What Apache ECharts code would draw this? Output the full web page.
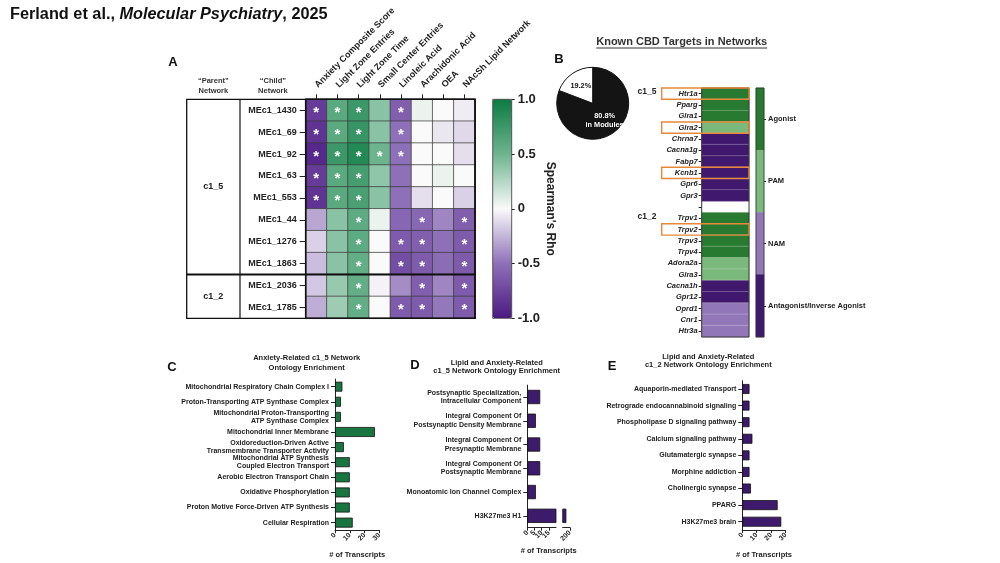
<!DOCTYPE html>
<html><head><meta charset="utf-8">
<script src="https://cdn.jsdelivr.net/npm/echarts@6/dist/echarts.min.js"></script>
<style>html,body{margin:0;padding:0;background:#fff}#c{width:1000px;height:563px}</style>
</head><body><div id="c"></div>
<script>
// ---------------- DATA ----------------
// Panel A
const aColumns = ['Anxiety Composite Score','Light Zone Entries','Light Zone Time','Small Center Entries','Linoleic Acid','Arachidonic Acid','OEA','NAcSh Lipid Network'];
const aRows = ['MEc1_1430','MEc1_69','MEc1_92','MEc1_63','MEc1_553','MEc1_44','MEc1_1276','MEc1_1863','MEc1_2036','MEc1_1785'];
const aParent = ['c1_5','c1_5','c1_5','c1_5','c1_5','c1_5','c1_5','c1_5','c1_2','c1_2'];
const aRho = [
  [-0.80, 0.60, 0.75, 0.40, -0.60,  0.05,  0.00, -0.05],
  [-0.85, 0.60, 0.78, 0.40, -0.50,  0.00, -0.07, -0.12],
  [-0.92, 0.75, 0.88, 0.50, -0.50,  0.00,  0.00, -0.10],
  [-0.80, 0.60, 0.70, 0.38, -0.50,  0.00,  0.05,  0.00],
  [-0.85, 0.60, 0.68, 0.40, -0.50, -0.10,  0.00, -0.15],
  [-0.30, 0.40, 0.58, 0.05, -0.55, -0.55, -0.42, -0.60],
  [-0.15, 0.40, 0.58, 0.00, -0.62, -0.60, -0.50, -0.62],
  [-0.22, 0.40, 0.55, 0.00, -0.70, -0.62, -0.52, -0.62],
  [-0.18, 0.35, 0.55, -0.03, -0.40, -0.60, -0.42, -0.62],
  [-0.28, 0.33, 0.55, 0.00, -0.62, -0.62, -0.47, -0.62]
];
const aSig = [
  [1,1,1,0,1,0,0,0],
  [1,1,1,0,1,0,0,0],
  [1,1,1,1,1,0,0,0],
  [1,1,1,0,0,0,0,0],
  [1,1,1,0,0,0,0,0],
  [0,0,1,0,0,1,0,1],
  [0,0,1,0,1,1,0,1],
  [0,0,1,0,1,1,0,1],
  [0,0,1,0,0,1,0,1],
  [0,0,1,0,1,1,0,1]
];
const rhoMin = -1, rhoMax = 1, rhoStep = 0.5;

// Panel B
const pieValues = [80.8, 19.2];
const pieLabels = ['80.8%\nin Modules', '19.2%'];
const bGenes = ['Htr1a','Pparg','Glra1','Glra2','Chrna7','Cacna1g','Fabp7','Kcnb1','Gpr6','Gpr3','','Trpv1','Trpv2','Trpv3','Trpv4','Adora2a','Glra3','Cacna1h','Gpr12','Oprd1','Cnr1','Htr3a'];
const bActions = ['Agonist','PAM','NAM','Antagonist/Inverse Agonist'];
const bGeneAction = ['Agonist','Agonist','Agonist','PAM','Antagonist/Inverse Agonist','Antagonist/Inverse Agonist','Antagonist/Inverse Agonist','Antagonist/Inverse Agonist','Antagonist/Inverse Agonist','Antagonist/Inverse Agonist',null,'Agonist','Agonist','Agonist','Agonist','PAM','PAM','Antagonist/Inverse Agonist','Antagonist/Inverse Agonist','NAM','NAM','NAM'];
const bHighlighted = ['Htr1a','Glra2','Kcnb1','Trpv2'];
const bGroupStart = {'c1_5':'Htr1a', 'c1_2':'Trpv1'};

// Panel C
const cTerms = ['Mitochondrial Respiratory Chain Complex I','Proton-Transporting ATP Synthase Complex','Mitochondrial Proton-Transporting\nATP Synthase Complex','Mitochondrial Inner Membrane','Oxidoreduction-Driven Active\nTransmembrane Transporter Activity','Mitochondrial ATP Synthesis\nCoupled Electron Transport','Aerobic Electron Transport Chain','Oxidative Phosphorylation','Proton Motive Force-Driven ATP Synthesis','Cellular Respiration'];
const cCounts = [5, 4, 4, 27, 6, 10, 10, 10, 10, 12];
// Panel D
const dTerms = ['Postsynaptic Specialization,\nIntracellular Component','Integral Component Of\nPostsynaptic Density Membrane','Integral Component Of\nPresynaptic Membrane','Integral Component Of\nPostsynaptic Membrane','Monoatomic Ion Channel Complex','H3K27me3 H1'];
const dCounts = [9, 6, 9, 9, 6, 150];
// Panel E
const eTerms = ['Aquaporin-mediated Transport','Retrograde endocannabinoid signaling','Phospholipase D signaling pathway','Calcium signaling pathway','Glutamatergic synapse','Morphine addiction','Cholinergic synapse','PPARG','H3K27me3 brain'];
const eCounts = [5, 5, 5, 7, 5, 5, 6, 24.5, 27];

// ---------------- LAYOUT / STYLE ----------------
const FF = '"Liberation Sans", Arial, sans-serif';
const L = {
  aGrid: {left:305.7, top:99.3, width:169.3, height:219},
  aBar: {left:492.7, top:99.3, width:19, height:219},
  tableLeft: 186.7, tableMid: 240,
  pie: {cx:592.7, cy:103.3, r:36},
  bGrid: {left:701.7, top:88, width:47.3, height:249},
  bLeg: {left:756, top:88, width:8, height:249},
  bBoxLeft: 661.7,
  cGrid: {left:335, top:379.1, width:44.3, height:151.1},
  dGrid1: {left:527.3, top:385.1, width:28.7, height:142.6},
  dGrid2: {left:562.7, top:385.1, width:7.3, height:142.6},
  eGrid: {left:742.3, top:380.7, width:43.3, height:149.3}
};
const rhoColors = ['#4b1a82', '#8e70b8', '#fafafa', '#6db48e', '#0c7b43'];
const bColors = ['#277a2f', '#7ab97b', '#9277b8', '#40196f'];
const green = '#18753f', purple = '#3d1a6b', ink = '#222';

const chart = echarts.init(document.getElementById('c'));
const grids = [L.aGrid, L.aBar, L.bGrid, L.bLeg, L.cGrid, L.dGrid1, L.dGrid2, L.eGrid]
  .map(g => ({left:g.left, top:g.top, width:g.width, height:g.height, containLabel:false, outerBoundsMode:'none'}));

const tickLbl = {fontFamily:FF, fontWeight:'bold', fontSize:7, color:ink, rotate:45, margin:4};
const axLine = {show:true, lineStyle:{color:ink, width:1}};
const xTick = {show:true, length:3, lineStyle:{color:ink}};
const nameStyle = {fontFamily:FF, fontWeight:'bold', fontSize:7.5, color:ink};
const catY = (grid, data, extra) => Object.assign({
  gridIndex:grid, type:'category', data:data, inverse:true,
  axisLine:axLine, axisTick:{show:true, alignWithLabel:true, length:4, lineStyle:{color:ink}},
  axisLabel:{interval:0, margin:6, fontFamily:FF, fontWeight:'bold', fontSize:7, color:ink, lineHeight:8.5},
  splitLine:{show:false}
}, extra || {});

const aData = [];
aRows.forEach((r, yi) => aColumns.forEach((c, xi) => aData.push([xi, yi, aRho[yi][xi], aSig[yi][xi]])));
const bData = bGenes.map((g, i) => [0, i, bGeneAction[i] == null ? '-' : bActions.indexOf(bGeneAction[i])]);
const legData = bActions.map((a, i) => [0, i, i]);

const option = {
  animation:false,
  backgroundColor:'#fff',
  title: {
    text:'{n|Ferland et al., }{i|Molecular Psychiatry}{n|, 2025}',
    left:10, top:7, padding:0,
    textStyle:{rich:{
      n:{fontFamily:FF, fontSize:16.3, color:'#111'},
      i:{fontFamily:FF, fontSize:16.3, color:'#111', fontStyle:'italic'}
    }}
  },
  grid: grids,
  visualMap: [
    {type:'continuous', seriesIndex:0, dimension:2, min:rhoMin, max:rhoMax,
     inRange:{color:rhoColors}, orient:'vertical',
     left:L.aBar.left, top:L.aBar.top, itemWidth:L.aBar.width, itemHeight:L.aBar.height,
     padding:0, calculable:false, text:null, hoverLink:false},
    {type:'piecewise', seriesIndex:[1,2], dimension:2, show:false,
     pieces: bActions.map((a, i) => ({value:i, color:bColors[i]}))}
  ],
  xAxis: [
    {gridIndex:0, type:'category', data:aColumns, position:'top',
     axisLine:{show:false}, axisTick:{show:true, alignWithLabel:true, length:5, lineStyle:{color:ink}},
     axisLabel:{interval:0, rotate:-45, margin:13, fontFamily:FF, fontWeight:'bold', fontSize:9, color:ink},
     splitLine:{show:false}},
    {gridIndex:1, type:'category', data:[''], show:false},
    {gridIndex:2, type:'category', data:[''], show:false},
    {gridIndex:3, type:'category', data:[''], show:false},
    {gridIndex:4, type:'value', min:0, max:30, interval:10, axisLine:axLine, axisTick:xTick, axisLabel:tickLbl, splitLine:{show:false},
     name:'# of Transcripts', nameLocation:'middle', nameGap:21, nameTextStyle:nameStyle},
    {gridIndex:5, type:'value', min:0, max:20, interval:5, axisLine:axLine, axisTick:xTick, axisLabel:tickLbl, splitLine:{show:false}},
    {gridIndex:6, type:'value', min:100, max:200, interval:100, axisLine:axLine, axisTick:xTick, axisLabel:tickLbl, splitLine:{show:false}},
    {gridIndex:7, type:'value', min:0, max:30, interval:10, axisLine:axLine, axisTick:xTick, axisLabel:tickLbl, splitLine:{show:false},
     name:'# of Transcripts', nameLocation:'middle', nameGap:21, nameTextStyle:nameStyle}
  ],
  yAxis: [
    catY(0, aRows, {axisLine:{show:false}, axisTick:{show:true, alignWithLabel:true, length:6, lineStyle:{color:ink}},
      axisLabel:{interval:0, margin:9, fontFamily:FF, fontWeight:'bold', fontSize:9, color:ink}}),
    {gridIndex:1, type:'value', min:rhoMin, max:rhoMax, interval:rhoStep, position:'right',
     axisLine:{show:false}, axisTick:{show:true, length:3, lineStyle:{color:ink}},
     axisLabel:{margin:6, fontFamily:FF, fontWeight:'bold', fontSize:13, color:ink, formatter:v => v === 0 ? '0' : v.toFixed(1)},
     splitLine:{show:false},
     name:"Spearman's Rho", nameLocation:'middle', nameRotate:-90, nameGap:25,
     nameTextStyle:{fontFamily:FF, fontWeight:'bold', fontSize:12, color:ink}},
    catY(2, bGenes, {axisLine:{show:false}, axisTick:{show:true, alignWithLabel:true, length:3, lineStyle:{color:ink}},
      axisLabel:{interval:0, margin:4, fontFamily:FF, fontWeight:'bold', fontStyle:'italic', fontSize:7.5, color:ink}}),
    catY(3, bActions, {position:'right', axisLine:{show:false}, axisTick:{show:true, alignWithLabel:true, length:2, lineStyle:{color:ink}},
      axisLabel:{interval:0, margin:4, fontFamily:FF, fontWeight:'bold', fontSize:7.5, color:ink}}),
    catY(4, cTerms),
    catY(5, dTerms),
    catY(6, dTerms, {show:false}),
    catY(7, eTerms)
  ],
  series: [
    {type:'heatmap', xAxisIndex:0, yAxisIndex:0, data:aData,
     itemStyle:{borderColor:'#3a3a3a', borderWidth:0.7},
     label:{show:true, formatter:p => p.data[3] ? '*' : '', color:'#fff', fontFamily:FF, fontSize:15, fontWeight:'bold', offset:[0,3]},
     emphasis:{disabled:true}},
    {type:'heatmap', xAxisIndex:2, yAxisIndex:2, data:bData,
     itemStyle:{borderColor:'rgba(255,255,255,0.4)', borderWidth:0.6}, emphasis:{disabled:true}},
    {type:'heatmap', xAxisIndex:3, yAxisIndex:3, data:legData, itemStyle:{borderWidth:0}, emphasis:{disabled:true}},
    {type:'pie', center:[L.pie.cx, L.pie.cy], radius:L.pie.r, startAngle:90, clockwise:true, silent:true,
     avoidLabelOverlap:false,
     data: pieValues.map((v, i) => ({value:v, name:pieLabels[i],
       itemStyle:{color: i === 0 ? '#141414' : '#ffffff'},
       label:{color: i === 0 ? '#fff' : '#111'}})),
     itemStyle:{borderColor:'#111', borderWidth:1},
     label:{show:true, position:'inside', formatter:p => p.name, fontFamily:FF, fontWeight:'bold', fontSize:7.3, lineHeight:9},
     labelLine:{show:false}, emphasis:{disabled:true}},
    {type:'bar', xAxisIndex:4, yAxisIndex:4, data:cCounts, barCategoryGap:'34%', clip:true,
     itemStyle:{color:green, borderColor:'#111', borderWidth:0.8}, emphasis:{disabled:true}},
    {type:'bar', xAxisIndex:5, yAxisIndex:5, data:dCounts, barCategoryGap:'40%', clip:true,
     itemStyle:{color:purple, borderColor:'#111', borderWidth:0.8}, emphasis:{disabled:true}},
    {type:'bar', xAxisIndex:6, yAxisIndex:6, data:dCounts, barCategoryGap:'40%', clip:true,
     itemStyle:{color:purple, borderColor:'#111', borderWidth:0.8}, emphasis:{disabled:true}},
    {type:'bar', xAxisIndex:7, yAxisIndex:7, data:eCounts, barCategoryGap:'40%', clip:true,
     itemStyle:{color:purple, borderColor:'#111', borderWidth:0.8}, emphasis:{disabled:true}}
  ]
};
chart.setOption(option);

// ---------------- DECORATIONS (derived from grids / axes) ----------------
const g = [];
const txt = (x, y, text, o) => g.push({type:'text', x:x, y:y, z:50, silent:true,
  style:Object.assign({text:text, fill:ink, font:'bold 7.5px ' + FF, align:'center', verticalAlign:'middle'}, o || {})});
const line = (x1, y1, x2, y2, w, c) => g.push({type:'line', z:40, silent:true, shape:{x1, y1, x2, y2}, style:{stroke:c || '#111', lineWidth:w}});
const rect = (x, y, w, h, lw, c, z) => g.push({type:'rect', z:z || 40, silent:true, shape:{x, y, width:w, height:h}, style:{fill:null, stroke:c || '#111', lineWidth:lw}});

// panel letters
[['A',173,62],['B',559,59],['C',172,367],['D',415,365],['E',612,366]].forEach(p => txt(p[1], p[2], p[0], {font:'bold 13px ' + FF, fill:'#111'}));

// Panel A table
const A = L.aGrid;
const aRowH = A.height / aRows.length;
rect(L.tableLeft, A.top, A.left + A.width - L.tableLeft, A.height, 1.3);
rect(A.left, A.top, A.width, A.height, 1.5);
line(L.tableMid, A.top, L.tableMid, A.top + A.height, 1.2);
line(A.left, A.top, A.left, A.top + A.height, 1.2);
const groups = [];
aParent.forEach((p, i) => {
  if (!groups.length || groups[groups.length - 1].name !== p) groups.push({name:p, from:i, to:i});
  else groups[groups.length - 1].to = i;
});
groups.forEach((gr, k) => {
  const y0 = chart.convertToPixel({xAxisIndex:0, yAxisIndex:0}, [0, gr.from])[1] - aRowH / 2;
  const y1 = chart.convertToPixel({xAxisIndex:0, yAxisIndex:0}, [0, gr.to])[1] + aRowH / 2;
  txt((L.tableLeft + L.tableMid) / 2, (y0 + y1) / 2, gr.name, {font:'bold 9px ' + FF});
  if (k > 0) line(L.tableLeft, y0, A.left + A.width, y0, 2.2);
});
txt((L.tableLeft + L.tableMid) / 2, A.top - 13, '\u201CParent\u201D\nNetwork', {font:'bold 7.5px ' + FF, lineHeight:10, fill:'#333'});
txt((L.tableMid + A.left) / 2, A.top - 13, '\u201CChild\u201D\nNetwork', {font:'bold 7.5px ' + FF, lineHeight:10, fill:'#333'});
rect(L.aBar.left, L.aBar.top, L.aBar.width, L.aBar.height, 0.8, '#333');

// Panel B
const B = L.bGrid;
const bRowH = B.height / bGenes.length;
const ctx = document.createElement('canvas').getContext('2d');
ctx.font = 'bold 11px ' + FF;
const bTitle = 'Known CBD Targets in Networks';
const bTitleW = ctx.measureText(bTitle).width;
const bTitleX = 681.7, bTitleY = 41.5;
txt(bTitleX, bTitleY, bTitle, {font:'bold 11px ' + FF, fill:'#333'});
line(bTitleX - bTitleW / 2, bTitleY + 6.5, bTitleX + bTitleW / 2, bTitleY + 6.5, 1, '#333');
rect(B.left, B.top, B.width, B.height, 1, '#333');
rect(L.bLeg.left, L.bLeg.top, L.bLeg.width, L.bLeg.height, 0.8, '#333');
bHighlighted.forEach(name => {
  const cy = chart.convertToPixel({xAxisIndex:2, yAxisIndex:2}, [0, bGenes.indexOf(name)])[1];
  rect(L.bBoxLeft, cy - bRowH / 2, B.left + B.width - L.bBoxLeft, bRowH, 1.4, '#e8893a', 45);
});
Object.keys(bGroupStart).forEach(k => {
  const cy = chart.convertToPixel({xAxisIndex:2, yAxisIndex:2}, [0, bGenes.indexOf(bGroupStart[k])])[1];
  txt(647, cy - 2, k, {font:'bold 8.5px ' + FF});
});

// Panel C/D/E titles
txt(306.7, 363, 'Anxiety-Related c1_5 Network\nOntology Enrichment', {lineHeight:9.5, font:'bold 7.5px ' + FF});
txt(496.7, 367, 'Lipid and Anxiety-Related\nc1_5 Network Ontology Enrichment', {lineHeight:8.5, font:'bold 7.5px ' + FF});
txt(708.3, 361, 'Lipid and Anxiety-Related\nc1_2 Network Ontology Enrichment', {lineHeight:8.5, font:'bold 7.5px ' + FF});
txt((L.dGrid1.left + L.dGrid2.left + L.dGrid2.width) / 2, L.dGrid1.top + L.dGrid1.height + 23, '# of Transcripts', {font:'bold 7.5px ' + FF});

chart.setOption({graphic: g});
</script>
</body></html>
